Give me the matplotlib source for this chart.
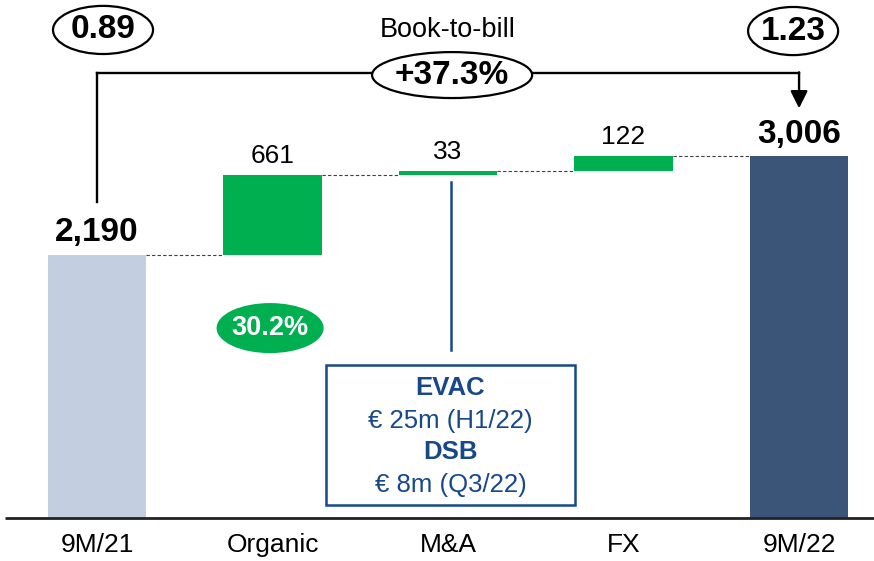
import matplotlib
matplotlib.use('Agg')
import matplotlib.pyplot as plt
from matplotlib.patches import Ellipse, Rectangle

plt.rcParams['font.family'] = ['Liberation Sans', 'DejaVu Sans']

# Order intake bridge 9M/21 -> 9M/22 (EUR m)
categories = ['9M/21', 'Organic', 'M&A', 'FX', '9M/22']
start_value = 2190
deltas = [661, 33, 122]
end_value = 3006
value_labels = ['2,190', '661', '33', '122', '3,006']
book_to_bill = ['0.89', '1.23']
growth_label = '+37.3%'
organic_growth = '30.2%'
ma_notes = [('EVAC', True), ('€ 25m (H1/22)', False), ('DSB', True), ('€ 8m (Q3/22)', False)]

c_start = '#C3CEE0'
c_end = '#3A5578'
c_green = '#00B050'
c_blue = '#16488A'

fig = plt.figure(figsize=(8.74, 5.61), dpi=100)
ax = fig.add_axes([0, 0, 1, 1])
ax.set_xlim(-0.553, 4.427)
ax.set_ylim(-357, 4306)
ax.axis('off')

width = 0.56
x = list(range(len(categories)))

# bottoms / heights of the waterfall
bottoms = [0]
heights = [start_value]
level = start_value
for d in deltas:
    bottoms.append(level)
    heights.append(d)
    level += d
bottoms.append(0)
heights.append(end_value)
colors = [c_start] + [c_green] * len(deltas) + [c_end]

ax.bar(x, heights, width, bottom=bottoms, color=colors, zorder=3)

# dashed connectors between bars
tops = [b + h for b, h in zip(bottoms, heights)]
for i in range(len(x) - 1):
    ax.plot([x[i] + width / 2, x[i + 1] - width / 2], [tops[i], tops[i]],
            color='#404040', lw=0.8, ls=(0, (3, 2)), zorder=2)

# value labels
for i, lab in enumerate(value_labels):
    bold = i in (0, len(x) - 1)
    ax.annotate(lab, (x[i], tops[i]), xytext=(0, 16 if bold else 14),
                textcoords='offset points', ha='center', va='center',
                fontsize=24 if bold else 19,
                fontweight='bold' if bold else 'normal', color='black')

# baseline and category labels
ax.plot([-0.525, 4.427], [0, 0], color='#222222', lw=2, zorder=4,
        solid_capstyle='butt')
for i, cat in enumerate(categories):
    ax.text(x[i], -224, cat, ha='center', va='center', fontsize=19)

# book-to-bill bracket
y_br = 3699
ax.plot([x[0], x[0]], [tops[0] + 437, y_br], color='black', lw=1.7)
ax.plot([x[0], x[-1]], [y_br, y_br], color='black', lw=1.7)
ax.annotate('', xy=(x[-1], tops[-1] + 400), xytext=(x[-1], y_br + 6),
            arrowprops=dict(arrowstyle='-|>', color='black', lw=1.7,
                            mutation_scale=26, shrinkA=0, shrinkB=0))

ax.add_patch(Ellipse((2.023, 3682), 0.912, 382, facecolor='white',
                     edgecolor='black', lw=1.6, zorder=5))
ax.text(2.023, 3682, growth_label, ha='center', va='center', fontsize=24,
        fontweight='bold', zorder=6)
ax.text(2.0, 4057, 'Book-to-bill', ha='center', va='center', fontsize=19.5)

for cx, cy, w, lab in [(0.034, 4057, 0.57, book_to_bill[0]),
                       (3.966, 4048, 0.513, book_to_bill[1])]:
    ax.add_patch(Ellipse((cx, cy), w, 400, facecolor='white',
                         edgecolor='black', lw=1.6, zorder=5))
    ax.text(cx, cy, lab, ha='center', va='center', fontsize=24,
            fontweight='bold', zorder=6)

# organic growth bubble
ax.add_patch(Ellipse((0.986, 1579), 0.61, 416, facecolor=c_green,
                     edgecolor='none', zorder=5))
ax.text(0.986, 1579, organic_growth, ha='center', va='center', fontsize=19.5,
        fontweight='bold', color='white', zorder=6)

# M&A callout
ax.plot([2.017, 2.017], [2793, 1397], color=c_blue, lw=1.8)
ax.add_patch(Rectangle((1.305, 108), 2.724 - 1.305, 1272 - 108,
                       facecolor='white', edgecolor=c_blue, lw=1.8, zorder=5))
for (txt, bold), yy in zip(ma_notes, [1081, 806, 549, 274]):
    ax.text(2.014, yy, txt, ha='center', va='center', fontsize=18.5,
            fontweight='bold' if bold else 'normal', color=c_blue, zorder=6)

fig.savefig('out.png', dpi=100)
